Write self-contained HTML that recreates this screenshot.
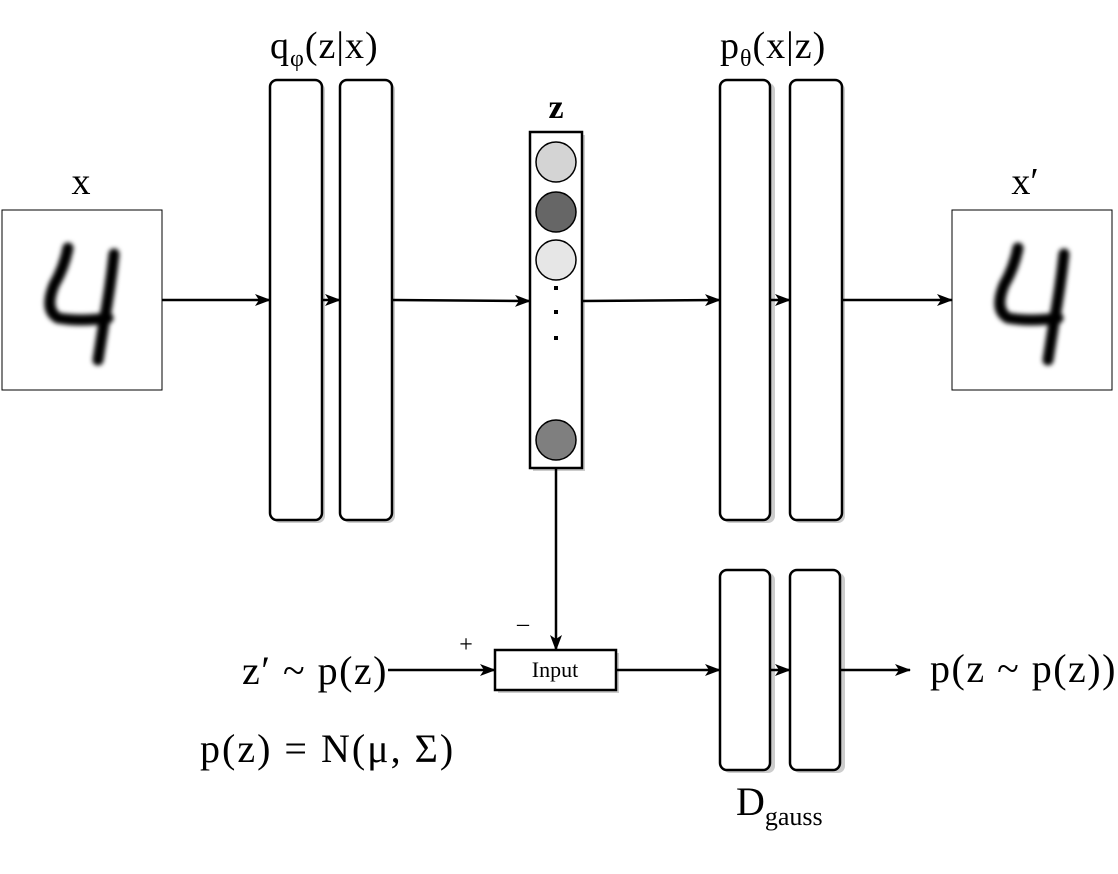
<!DOCTYPE html>
<html><head><meta charset="utf-8"><style>body{margin:0;background:#fff}svg{display:block}text{font-family:"Liberation Serif",serif;fill:#000}</style></head><body>
<svg width="1118" height="874" viewBox="0 0 1118 874" xmlns="http://www.w3.org/2000/svg">
<defs>
<marker id="a" markerWidth="16" markerHeight="12" refX="15" refY="6" orient="auto" markerUnits="userSpaceOnUse"><path d="M0,0 L16,6 L0,12 L4,6 Z" fill="#000"/></marker>
<filter id="b"><feGaussianBlur stdDeviation="2.5"/></filter>
</defs>
<g fill="#ccc">
<rect x="273" y="83" width="52" height="440" rx="7"/><rect x="343" y="83" width="52" height="440" rx="7"/>
<rect x="723" y="83" width="52" height="440" rx="7"/><rect x="793" y="83" width="52" height="440" rx="7"/>
<rect x="723" y="573" width="52" height="200" rx="7"/><rect x="793" y="573" width="52" height="200" rx="7"/>
<rect x="533" y="135" width="52" height="336"/><rect x="498" y="653" width="121" height="40"/>
</g>
<g fill="#fff" stroke="#000" stroke-width="2.5">
<rect x="270" y="80" width="52" height="440" rx="7"/><rect x="340" y="80" width="52" height="440" rx="7"/>
<rect x="720" y="80" width="50" height="440" rx="7"/><rect x="790" y="80" width="52" height="440" rx="7"/>
<rect x="720" y="570" width="50" height="200" rx="7"/><rect x="790" y="570" width="50" height="200" rx="7"/>
<rect x="530" y="132" width="52" height="336"/><rect x="495" y="650" width="121" height="40"/>
</g>
<g stroke="#000" stroke-width="1.5">
<circle cx="556" cy="162" r="20" fill="#d4d4d4"/><circle cx="556" cy="212" r="20" fill="#666"/><circle cx="556" cy="260" r="20" fill="#e6e6e6"/><circle cx="556" cy="440" r="20" fill="#7f7f7f"/>
</g>
<g fill="#000"><rect x="554" y="286" width="4" height="4"/><rect x="554" y="310" width="4" height="4"/><rect x="554" y="336" width="4" height="4"/></g>
<rect x="2" y="210" width="160" height="180" fill="#fff" stroke="#000" stroke-width="1"/>
<rect x="952" y="210" width="160" height="180" fill="#fff" stroke="#000" stroke-width="1"/>
<g fill="none" stroke="#000" stroke-width="11" stroke-linecap="round" filter="url(#b)">
<path d="M68,248 Q64,268 54,285 Q44,310 58,318 Q80,322 108,318 M114,254 Q110,290 104,322 L98,360"/>
<path d="M1018,248 Q1014,268 1004,285 Q994,310 1008,318 Q1030,322 1058,318 M1064,254 Q1060,290 1054,322 L1048,360"/>
</g>
<g stroke="#000" stroke-width="2.5" fill="none" marker-end="url(#a)">
<line x1="162" y1="300" x2="270" y2="300"/><line x1="322" y1="300" x2="340" y2="300"/>
<line x1="392" y1="300" x2="530" y2="301"/><line x1="582" y1="301" x2="720" y2="300"/>
<line x1="770" y1="300" x2="790" y2="300"/><line x1="842" y1="300" x2="952" y2="300"/>
<line x1="556" y1="468" x2="556" y2="650"/><line x1="388" y1="670" x2="495" y2="670"/>
<line x1="616" y1="670" x2="720" y2="670"/><line x1="770" y1="670" x2="790" y2="670"/>
<line x1="840" y1="670" x2="910" y2="670"/>
</g>
<text x="81" y="194" font-size="38" text-anchor="middle">x</text>
<text x="1025" y="194" font-size="38" text-anchor="middle">x′</text>
<text x="556" y="118" font-size="34" font-weight="bold" text-anchor="middle">z</text>
<text x="270" y="58" font-size="38" letter-spacing="1">q<tspan font-size="24" dy="8">φ</tspan><tspan dy="-8">(z|x)</tspan></text>
<text x="720" y="58" font-size="38" letter-spacing="1">p<tspan font-size="24" dy="8">θ</tspan><tspan dy="-8">(x|z)</tspan></text>
<text x="555" y="677" font-size="22" text-anchor="middle">Input</text>
<text x="466" y="652" font-size="24" text-anchor="middle">+</text>
<text x="523" y="631" font-size="24" text-anchor="middle">–</text>
<text x="388" y="684" font-size="40" text-anchor="end" letter-spacing="1.5">z′ ~ p(z)</text>
<text x="200" y="762" font-size="40" letter-spacing="2">p(z) = N(μ, Σ)</text>
<text x="930" y="682" font-size="40" letter-spacing="1.5">p(z ~ p(z))</text>
<text x="736" y="815" font-size="40">D<tspan font-size="26" dy="10">gauss</tspan></text>
</svg>
</body></html>
